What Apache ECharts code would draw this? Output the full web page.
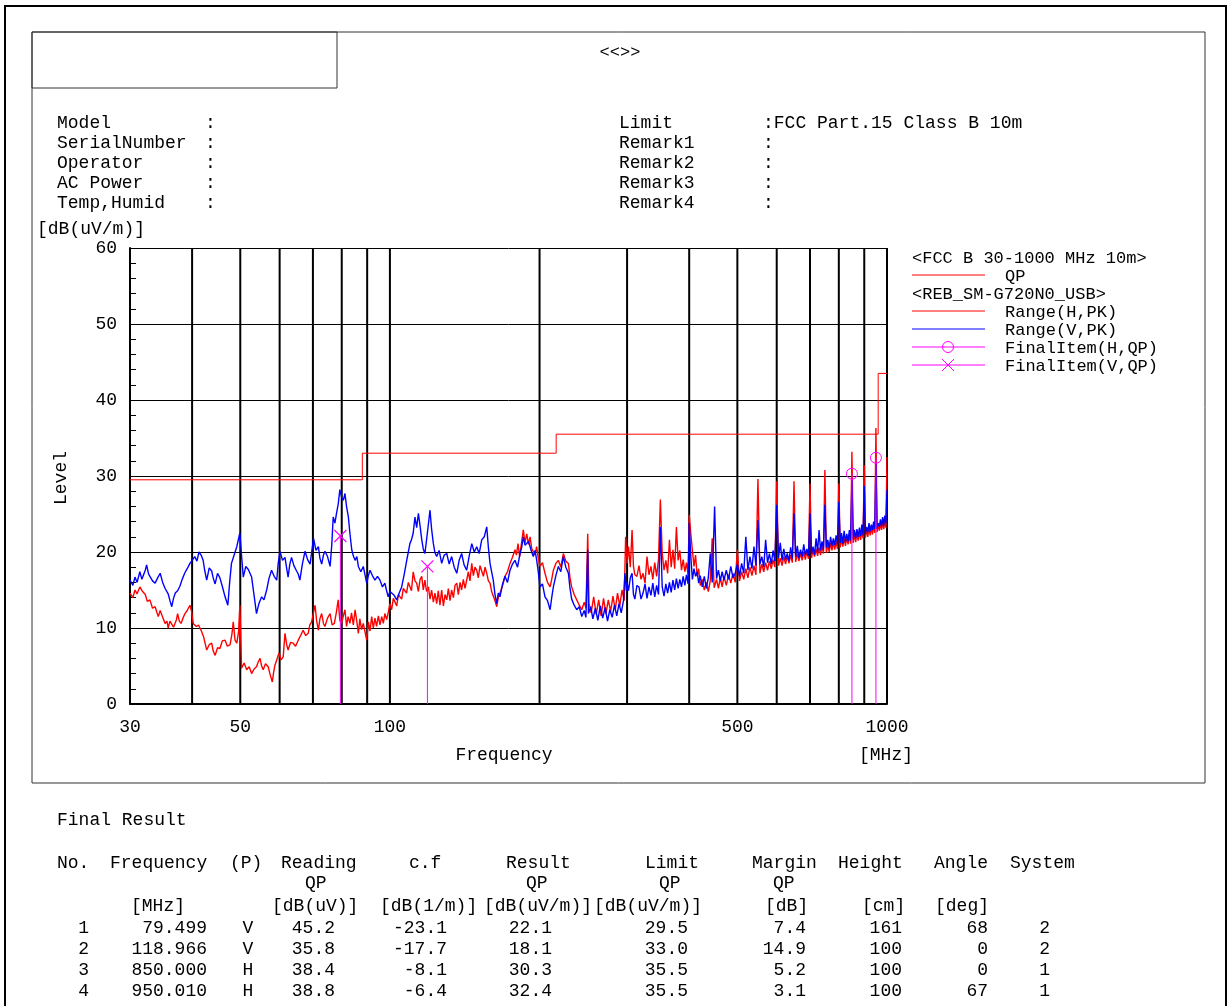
<!DOCTYPE html>
<html>
<head>
<meta charset="utf-8">
<title>Radiated Emission</title>
<script src="https://cdn.jsdelivr.net/npm/echarts@6/dist/echarts.min.js"></script>
<style>
  html, body { margin: 0; padding: 0; background: #fff; }
  #chart { width: 1228px; height: 1006px; }
</style>
</head>
<body>
<div id="chart"></div>
<script>
// limit line FCC Part15 class B 10m (QP)
const limitQP = [
  [30, 29.5], [88, 29.5], [88, 33.0], [216, 33.0],
  [216, 35.5], [960, 35.5], [960, 43.5], [1000, 43.5]
]

// vertical grid lines of the log axis
const gridFreqs = [40, 50, 60, 70, 80, 90, 100, 200, 300, 400, 500, 600, 700, 800, 900, 1000]
const xLabelValues = [30, 50, 100, 500, 1000]

// Range(H,PK) trace, [MHz, dB(uV/m)]
const rangeH = [
  [30.0,14.6],[30.4,14.0],[30.7,15.0],[31.0,14.5],[31.4,15.4],[31.8,14.8],[32.2,14.4],[32.5,13.5],[32.9,13.7],[33.3,12.6],
  [33.7,12.8],[34.0,12.0],[34.2,11.5],[34.5,12.3],[34.7,12.4],[35.0,11.2],[35.3,10.6],[35.6,10.9],[35.8,10.0],[36.1,10.9],
  [36.4,10.8],[36.7,10.1],[37.0,10.2],[37.2,11.1],[37.4,11.9],[37.7,10.9],[38.0,10.6],[38.4,11.4],[38.7,11.9],[39.1,12.3],
  [39.6,13.0],[39.9,12.2],[40.2,10.6],[40.5,10.8],[40.8,10.2],[41.2,10.4],[41.7,9.7],[42.2,8.8],[42.8,7.1],[43.3,7.8],
  [43.8,8.0],[44.1,7.0],[44.5,6.4],[45.0,7.4],[45.5,7.3],[46.0,8.3],[46.6,8.4],[47.1,7.6],[47.7,7.8],[48.1,9.2],
  [48.4,10.8],[48.8,8.4],[49.2,8.0],[49.6,9.5],[49.9,13.0],[50.1,9.0],[50.3,4.7],[50.9,5.4],[51.5,4.5],[52.1,4.9],
  [52.7,4.0],[53.3,4.6],[53.9,4.9],[54.3,5.5],[54.8,6.0],[55.2,5.0],[55.6,4.5],[56.2,5.3],[56.9,4.9],[57.4,3.9],
  [58.0,2.9],[58.3,4.0],[58.7,5.1],[59.2,5.8],[59.8,6.7],[60.4,5.8],[61.0,6.2],[61.5,9.3],[62.0,7.8],[62.4,7.1],
  [63.1,8.1],[63.9,8.0],[64.6,7.6],[65.4,8.4],[66.1,9.0],[66.9,9.7],[67.7,9.0],[68.5,9.3],[69.0,10.4],[69.6,10.8],
  [70.2,11.0],[70.7,13.0],[71.2,11.0],[71.8,9.7],[72.3,11.2],[72.9,11.9],[73.5,10.6],[74.0,10.2],[74.9,11.3],[75.8,11.9],
  [76.5,10.4],[77.3,10.6],[78.0,12.0],[78.7,13.7],[79.3,11.0],[79.9,10.6],[80.6,11.6],[81.2,12.4],[81.8,10.2],[82.4,11.5],
  [83.1,10.6],[83.7,12.0],[84.4,10.4],[85.1,12.4],[85.8,10.8],[86.4,9.3],[87.0,11.2],[87.7,9.8],[88.4,10.6],[89.1,9.5],
  [89.8,8.4],[90.5,10.8],[91.2,9.6],[91.9,11.5],[92.6,10.0],[93.3,11.3],[94.0,10.2],[94.8,11.6],[95.5,10.4],[96.3,11.5],
  [97.0,10.6],[97.7,11.9],[98.5,11.1],[99.2,12.0],[100.0,13.2],[100.8,12.4],[101.6,13.9],[102.4,13.7],[103.2,12.9],[104.0,14.4],
  [104.8,14.6],[105.6,13.8],[106.4,15.2],[107.2,15.4],[108.0,14.6],[108.9,16.0],[109.7,15.9],[110.5,14.9],[111.4,17.4],[112.3,16.2],
  [113.2,15.9],[114.1,14.8],[115.0,16.4],[115.9,16.8],[116.7,15.0],[117.6,16.3],[118.5,14.8],[119.5,15.4],[120.4,13.8],[121.3,15.0],
  [122.3,13.4],[123.2,14.6],[124.2,13.2],[125.1,14.9],[126.1,13.0],[127.1,15.0],[128.1,12.9],[129.1,14.4],[130.1,13.7],[131.1,15.2],
  [132.1,13.6],[133.1,15.0],[134.2,14.0],[135.2,15.6],[136.3,15.9],[137.3,14.4],[138.4,16.0],[139.4,15.0],[140.5,16.4],[141.6,15.2],
  [142.7,16.3],[143.8,17.4],[144.9,16.2],[146.1,18.5],[147.2,16.9],[148.3,18.0],[149.5,17.6],[150.6,16.6],[151.8,18.2],[153.0,18.1],
  [154.2,16.8],[155.4,18.0],[156.6,17.2],[157.8,16.2],[159.0,15.9],[160.2,14.8],[161.4,15.0],[162.7,13.6],[164.0,12.8],[165.2,14.0],
  [166.5,14.1],[168.4,15.5],[170.4,16.8],[172.4,17.4],[174.4,18.5],[176.4,19.3],[178.5,20.3],[179.7,19.6],[181.0,21.1],[182.4,19.4],
  [183.8,19.4],[185.5,22.9],[187.0,21.2],[188.5,22.4],[190.0,21.0],[191.4,22.0],[192.8,20.5],[194.3,20.7],[195.8,19.6],[197.3,20.7],
  [198.8,19.2],[200.4,18.1],[202.7,18.6],[205.1,17.2],[207.5,16.0],[210.0,15.4],[211.6,16.4],[213.2,17.6],[215.7,18.5],[218.2,18.9],
  [220.7,18.0],[223.3,19.8],[225.9,18.8],[228.6,18.5],[230.3,16.6],[232.1,15.4],[234.8,14.4],[237.6,13.7],[240.4,13.0],[243.2,12.4],
  [246.0,13.4],[248.0,12.6],[250.0,22.4],[251.5,13.2],[254.0,12.0],[257.0,14.1],[260.0,11.8],[263.0,13.7],[266.0,11.6],[269.0,13.9],
  [272.0,11.9],[275.0,13.7],[278.0,12.2],[281.0,14.2],[284.0,12.4],[287.0,14.6],[290.0,12.9],[293.0,15.0],[296.0,13.6],[298.0,22.0],
  [300.0,18.5],[302.0,20.7],[304.5,18.0],[307.0,22.9],[309.0,18.1],[311.0,17.0],[314.0,16.8],[317.0,18.2],[320.0,16.4],[323.0,17.2],
  [326.0,15.9],[329.0,19.4],[332.0,17.0],[335.0,18.1],[338.0,16.4],[341.0,18.6],[344.0,16.8],[347.0,19.0],[350.0,26.9],[353.0,19.8],
  [356.0,17.6],[359.0,18.9],[362.0,17.2],[365.0,21.6],[368.0,18.0],[371.0,20.3],[374.0,17.8],[377.0,23.3],[380.0,18.9],[383.0,20.2],
  [386.0,17.6],[389.0,19.0],[392.0,17.4],[395.0,18.6],[398.0,17.0],[400.0,24.9],[403.0,22.4],[406.0,20.2],[409.0,18.1],[412.0,19.6],
  [415.0,16.8],[418.0,17.8],[421.0,15.6],[425.0,16.4],[429.0,15.0],[433.0,16.0],[437.0,14.8],[441.0,16.2],[445.0,21.8],[449.0,15.3],
  [454.0,16.4],[458.0,15.2],[462.0,16.6],[466.0,15.4],[470.0,16.8],[475.0,15.6],[480.0,17.0],[485.0,15.9],[490.0,17.2],[495.0,16.0],
  [500.0,20.3],[505.0,16.2],[510.0,17.4],[515.0,16.4],[520.0,17.8],[525.0,16.6],[530.0,18.0],[535.0,16.9],[540.0,18.2],[545.0,17.0],
  [550.0,29.6],[555.0,17.2],[560.0,18.4],[565.0,17.4],[570.0,18.6],[575.0,17.6],[580.0,18.8],[585.0,17.8],[590.0,19.0],[595.0,18.0],
  [600.0,29.3],[605.0,18.2],[610.0,19.2],[615.0,18.2],[620.0,19.4],[625.0,18.4],[630.0,19.5],[635.0,18.5],[640.0,19.6],[645.0,18.6],
  [650.0,29.3],[655.0,18.7],[660.0,19.8],[665.0,18.8],[670.0,19.9],[675.0,18.9],[680.0,20.0],[685.0,19.0],[690.0,20.1],[695.0,19.1],
  [700.0,29.0],[705.0,19.2],[710.0,20.3],[715.0,19.4],[720.0,20.4],[725.0,19.5],[730.0,20.6],[735.0,19.6],[740.0,20.8],[745.0,19.8],
  [750.0,30.8],[755.0,19.9],[760.0,21.0],[765.0,20.0],[770.0,21.2],[775.0,20.2],[780.0,21.3],[785.0,20.3],[790.0,21.4],[795.0,20.4],
  [800.0,29.0],[805.0,20.6],[810.0,21.7],[815.0,20.7],[820.0,21.8],[825.0,20.8],[830.0,22.0],[835.0,21.0],[840.0,22.1],[845.0,21.1],
  [850.0,33.2],[855.0,21.2],[860.0,22.3],[865.0,21.3],[870.0,22.5],[875.0,21.5],[880.0,22.6],[885.0,21.6],[890.0,22.8],[895.0,21.8],
  [900.0,31.4],[905.0,21.9],[910.0,23.0],[915.0,22.0],[920.0,23.2],[925.0,22.2],[930.0,23.3],[935.0,22.3],[940.0,23.5],[945.0,22.5],
  [950.0,36.3],[955.0,22.6],[960.0,23.7],[965.0,22.8],[970.0,23.8],[975.0,22.9],[980.0,24.0],[985.0,23.0],[990.0,24.1],[995.0,23.2],
  [1000.0,32.5]
]

// Range(V,PK) trace, [MHz, dB(uV/m)]
const rangeV = [
  [30.0,16.3],[30.4,15.6],[30.7,16.7],[31.0,16.0],[31.4,17.4],[31.7,16.4],[31.9,16.5],[32.2,17.6],[32.4,18.3],[32.7,17.1],
  [32.9,17.0],[33.3,16.2],[33.7,15.9],[34.1,16.6],[34.5,17.2],[34.9,16.0],[35.3,15.2],[35.8,14.5],[36.1,13.6],[36.4,12.8],
  [36.7,13.9],[37.0,14.6],[37.4,14.9],[37.8,15.5],[38.2,16.4],[38.7,17.3],[39.1,17.8],[39.6,18.5],[40.0,18.9],[40.5,19.4],
  [40.9,18.8],[41.3,20.0],[41.7,19.6],[42.1,18.9],[42.4,17.6],[42.8,16.3],[43.3,17.9],[43.8,17.5],[44.1,16.6],[44.5,15.8],
  [45.0,17.2],[45.5,16.6],[46.0,15.5],[46.6,14.1],[47.2,13.0],[47.6,16.0],[48.0,18.5],[48.6,19.6],[49.2,20.7],[49.9,22.5],
  [50.3,19.5],[50.7,16.7],[51.3,18.1],[51.9,17.7],[52.3,17.9],[52.7,16.7],[53.3,14.3],[53.9,11.9],[54.5,13.2],[55.2,14.1],
  [55.8,13.7],[56.5,15.0],[57.1,16.5],[57.8,17.6],[58.5,16.8],[59.2,16.3],[59.6,18.5],[60.1,20.1],[60.8,18.9],[61.5,19.3],
  [62.0,17.8],[62.4,16.7],[62.9,18.4],[63.4,19.3],[64.1,18.2],[64.9,17.5],[65.4,17.1],[65.9,16.3],[66.7,18.5],[67.5,20.1],
  [68.3,19.0],[69.1,18.4],[69.6,20.0],[70.2,21.8],[71.0,20.2],[71.8,20.7],[72.3,19.2],[72.9,18.4],[73.5,19.6],[74.0,20.1],
  [74.9,19.4],[75.8,18.1],[76.4,21.0],[76.9,24.6],[77.5,23.8],[78.1,25.1],[78.7,26.3],[79.3,28.2],[79.9,27.3],[80.6,26.8],
  [81.2,27.7],[81.8,26.0],[82.5,24.6],[83.1,22.4],[83.8,20.3],[84.4,19.5],[85.1,18.9],[85.8,19.4],[86.4,18.1],[87.4,17.4],
  [88.4,18.1],[89.1,17.0],[89.8,15.9],[90.5,16.9],[91.2,17.6],[92.2,16.9],[93.3,16.3],[94.4,16.8],[95.5,16.3],[96.6,15.4],
  [97.7,15.9],[98.4,15.0],[99.2,14.1],[100.0,14.8],[100.8,15.0],[102.0,14.3],[103.2,13.7],[104.4,14.6],[105.6,15.4],[106.8,17.0],
  [108.1,18.9],[108.9,20.0],[109.7,21.1],[110.5,21.6],[111.4,22.5],[112.3,24.6],[113.2,23.2],[114.1,25.1],[115.0,23.4],[115.9,21.6],
  [116.7,20.4],[117.6,19.8],[119.0,22.6],[120.4,25.5],[121.3,23.0],[122.3,21.1],[123.2,19.9],[124.2,19.4],[125.6,20.2],[127.1,18.5],
  [128.6,19.6],[130.1,19.8],[131.6,18.4],[133.1,19.4],[134.7,18.0],[136.3,17.2],[137.8,18.9],[139.4,19.8],[141.0,18.3],[142.7,17.6],
  [144.4,19.5],[146.1,21.1],[147.8,20.0],[149.5,20.7],[151.2,19.8],[153.0,21.6],[154.8,22.0],[156.6,23.3],[157.8,20.6],[159.0,18.5],
  [160.2,17.4],[161.4,16.3],[162.7,14.4],[164.0,13.2],[165.2,14.6],[166.5,14.1],[168.4,15.7],[170.4,16.8],[172.4,16.0],[174.4,17.6],
  [176.4,18.4],[178.5,18.9],[180.6,18.0],[182.7,19.8],[184.1,20.6],[185.5,22.0],[187.0,20.9],[188.5,20.7],[190.0,21.4],[191.4,21.6],
  [192.8,20.0],[194.3,19.4],[195.8,20.2],[197.3,19.0],[198.8,17.4],[200.4,15.4],[202.7,15.8],[205.1,14.1],[207.5,13.6],[210.0,12.4],
  [211.6,14.0],[213.2,15.4],[215.7,16.9],[218.2,18.1],[220.7,17.4],[223.3,19.4],[225.9,18.0],[228.6,17.2],[230.3,15.2],[232.1,13.8],
  [234.8,13.0],[237.6,12.4],[240.4,12.8],[243.2,11.5],[246.0,12.3],[247.9,11.4],[250.0,20.3],[250.8,11.9],[253.5,12.8],[256.0,11.2],
  [259.0,12.6],[262.0,11.0],[265.0,12.9],[268.0,11.3],[271.0,12.7],[274.0,10.9],[277.0,12.4],[280.0,11.4],[283.0,13.0],[286.0,11.6],
  [289.0,13.2],[292.0,12.0],[295.0,13.6],[297.0,17.2],[299.0,14.9],[300.0,16.0],[302.0,14.9],[304.5,16.6],[307.0,17.2],[309.0,14.4],
  [311.0,13.8],[314.0,15.6],[317.0,15.4],[320.0,13.8],[323.0,14.6],[326.0,15.8],[329.0,13.9],[332.0,15.4],[335.0,14.3],[338.0,15.9],
  [341.0,14.1],[344.0,15.6],[347.0,14.4],[350.0,23.3],[353.0,15.4],[356.0,14.2],[359.0,15.8],[362.0,14.6],[365.0,16.0],[368.0,14.7],
  [371.0,16.3],[374.0,15.0],[377.0,16.5],[380.0,15.2],[383.0,16.4],[386.0,15.4],[389.0,16.8],[392.0,15.6],[395.0,17.0],[398.0,15.8],
  [400.0,23.8],[403.0,19.4],[406.0,16.4],[409.0,17.8],[412.0,16.8],[415.0,17.4],[418.0,15.9],[421.0,16.9],[425.0,15.4],[429.0,16.8],
  [433.0,15.2],[437.0,16.6],[441.0,19.8],[445.0,16.0],[450.0,26.0],[454.0,16.5],[458.0,17.6],[462.0,16.2],[466.0,17.4],[470.0,16.3],
  [475.0,17.6],[480.0,16.4],[485.0,18.1],[490.0,16.6],[495.0,17.2],[500.0,18.4],[505.0,16.8],[510.0,18.5],[515.0,17.2],[520.0,22.0],
  [525.0,17.6],[530.0,19.4],[535.0,17.8],[540.0,20.7],[545.0,18.2],[550.0,24.2],[555.0,18.4],[560.0,19.4],[565.0,18.0],[570.0,21.6],
  [575.0,18.6],[580.0,19.8],[585.0,18.4],[590.0,20.2],[595.0,18.8],[600.0,26.2],[605.0,19.2],[610.0,21.2],[615.0,18.9],[620.0,20.4],
  [625.0,19.0],[630.0,19.8],[635.0,18.8],[640.0,20.6],[645.0,19.1],[650.0,25.1],[655.0,19.4],[660.0,20.8],[665.0,19.2],[670.0,20.3],
  [675.0,19.4],[680.0,21.0],[685.0,19.6],[690.0,20.4],[695.0,19.5],[700.0,25.1],[705.0,19.8],[710.0,20.7],[715.0,19.6],[720.0,21.8],
  [725.0,20.0],[730.0,22.9],[735.0,20.2],[740.0,21.4],[745.0,20.3],[750.0,26.2],[755.0,20.6],[760.0,21.6],[765.0,20.5],[770.0,22.0],
  [775.0,20.8],[780.0,21.8],[785.0,20.9],[790.0,22.2],[795.0,21.0],[800.0,26.6],[805.0,21.2],[810.0,22.5],[815.0,21.1],[820.0,22.8],
  [825.0,21.3],[830.0,22.4],[835.0,21.4],[840.0,22.9],[845.0,21.5],[850.0,29.5],[855.0,21.7],[860.0,22.9],[865.0,21.8],[870.0,23.0],
  [875.0,22.0],[880.0,23.2],[885.0,22.1],[890.0,23.6],[895.0,22.2],[900.0,28.7],[905.0,22.4],[910.0,23.3],[915.0,22.6],[920.0,23.8],
  [925.0,22.7],[930.0,23.6],[935.0,22.9],[940.0,24.0],[945.0,23.0],[950.0,31.7],[955.0,23.1],[960.0,23.8],[965.0,23.3],[970.0,24.3],
  [975.0,23.4],[980.0,24.6],[985.0,23.5],[990.0,24.8],[995.0,23.8],[1000.0,28.2]
]

// Final Result table
const resultNo = [1, 2, 3, 4]
const resultFreq = [79.499, 118.966, 850.000, 950.010]
const resultPol = ['V', 'V', 'H', 'H']
const readingQP = [45.2, 35.8, 38.4, 38.8]
const corrFactor = [-23.1, -17.7, -8.1, -6.4]
const resultQP = [22.1, 18.1, 30.3, 32.4]
const limitAtFreq = [29.5, 33.0, 35.5, 35.5]
const marginQP = [7.4, 14.9, 5.2, 3.1]
const antHeight = [161, 100, 100, 100]
const turnAngle = [68, 0, 0, 67]
const systemNo = [2, 2, 1, 1]

const RED = '#ff0000'
const BLUE = '#0000ff'
const MAGENTA = '#ff00ff'
const MONO = '"Liberation Mono", "DejaVu Sans Mono", monospace'

const finalH = []
const finalV = []
resultFreq.forEach((f, i) => {
  if (resultPol[i] === 'H') finalH.push([f, resultQP[i]])
  else finalV.push([f, resultQP[i]])
})
const finalAll = resultFreq.map((f, i) => [f, resultQP[i]])

const txt = (x, y, s, opts = {}) => ({
  type: 'text',
  x: x,
  y: y,
  rotation: opts.rotation || 0,
  silent: true,
  style: {
    text: s,
    font: (opts.size || 18) + 'px ' + MONO,
    fill: '#000',
    align: opts.align || 'left',
    textAlign: opts.align || 'left',
    verticalAlign: 'middle',
    textVerticalAlign: 'middle'
  }
})

const hline = (x1, x2, y, color) => ({
  type: 'line',
  silent: true,
  shape: { x1: x1, y1: y, x2: x2, y2: y },
  style: { stroke: color, lineWidth: 1 }
})

const graphics = []

// frames
graphics.push({ type: 'rect', silent: true, shape: { x: 5, y: 6, width: 1221, height: 1012 }, style: { fill: 'none', stroke: '#000', lineWidth: 2 } })
graphics.push({ type: 'rect', silent: true, shape: { x: 32, y: 32, width: 1173, height: 751 }, style: { fill: 'none', stroke: '#333', lineWidth: 1 } })
graphics.push({ type: 'rect', silent: true, shape: { x: 32, y: 32, width: 305, height: 56 }, style: { fill: 'none', stroke: '#333', lineWidth: 1 } })
graphics.push(txt(620, 52, '<<>>', { align: 'center', size: 17 }))

// header block
const leftLabels = ['Model', 'SerialNumber', 'Operator', 'AC Power', 'Temp,Humid']
const rightLabels = ['Limit', 'Remark1', 'Remark2', 'Remark3', 'Remark4']
leftLabels.forEach((s, i) => {
  graphics.push(txt(57, 123 + i * 20, s))
  graphics.push(txt(205, 123 + i * 20, ':'))
})
rightLabels.forEach((s, i) => {
  graphics.push(txt(619, 123 + i * 20, s))
  graphics.push(txt(763, 123 + i * 20, i === 0 ? ':FCC Part.15 Class B 10m' : ':'))
})

// axis titles
graphics.push(txt(37, 229, '[dB(uV/m)]'))
graphics.push(txt(61, 478, 'Level', { align: 'center', rotation: Math.PI / 2 }))
graphics.push(txt(504, 755, 'Frequency', { align: 'center' }))
graphics.push(txt(859, 755, '[MHz]'))

// legend
const lgX1 = 912
const lgX2 = 985
const lgText = 1005
graphics.push(txt(lgX1, 258, '<FCC B 30-1000 MHz 10m>', { size: 17 }))
graphics.push(hline(lgX1, lgX2, 275, RED))
graphics.push(txt(lgText, 276, 'QP', { size: 17 }))
graphics.push(txt(lgX1, 294, '<REB_SM-G720N0_USB>', { size: 17 }))
graphics.push(hline(lgX1, lgX2, 311, RED))
graphics.push(txt(lgText, 312, 'Range(H,PK)', { size: 17 }))
graphics.push(hline(lgX1, lgX2, 329, BLUE))
graphics.push(txt(lgText, 330, 'Range(V,PK)', { size: 17 }))
graphics.push(hline(lgX1, lgX2, 347, MAGENTA))
graphics.push({ type: 'circle', silent: true, shape: { cx: 948, cy: 347, r: 5.5 }, style: { fill: 'none', stroke: MAGENTA, lineWidth: 1 } })
graphics.push(txt(lgText, 348, 'FinalItem(H,QP)', { size: 17 }))
graphics.push(hline(lgX1, lgX2, 365, MAGENTA))
graphics.push({ type: 'polyline', silent: true, shape: { points: [[942, 359], [954, 371]] }, style: { stroke: MAGENTA, lineWidth: 1 } })
graphics.push({ type: 'polyline', silent: true, shape: { points: [[954, 359], [942, 371]] }, style: { stroke: MAGENTA, lineWidth: 1 } })
graphics.push(txt(lgText, 366, 'FinalItem(V,QP)', { size: 17 }))

// final result table
graphics.push(txt(57, 820, 'Final Result'))
const heads = [
  ['No.', 57], ['Frequency', 110], ['(P)', 230], ['Reading', 281], ['c.f', 409], ['Result', 506],
  ['Limit', 645], ['Margin', 752], ['Height', 838], ['Angle', 934], ['System', 1010]
]
heads.forEach(h => graphics.push(txt(h[1], 863, h[0])))
;[305, 526, 659, 773].forEach(x => graphics.push(txt(x, 883, 'QP')))
const units = [
  ['[MHz]', 131], ['[dB(uV)]', 272], ['[dB(1/m)]', 380], ['[dB(uV/m)]', 484],
  ['[dB(uV/m)]', 594], ['[dB]', 765], ['[cm]', 862], ['[deg]', 935]
]
units.forEach(u => graphics.push(txt(u[1], 906, u[0])))
resultNo.forEach((n, i) => {
  const y = 928 + i * 21
  const r = { align: 'right' }
  graphics.push(txt(89, y, String(n), r))
  graphics.push(txt(207, y, resultFreq[i].toFixed(3), r))
  graphics.push(txt(248, y, resultPol[i], { align: 'center' }))
  graphics.push(txt(335, y, readingQP[i].toFixed(1), r))
  graphics.push(txt(447, y, corrFactor[i].toFixed(1), r))
  graphics.push(txt(552, y, resultQP[i].toFixed(1), r))
  graphics.push(txt(688, y, limitAtFreq[i].toFixed(1), r))
  graphics.push(txt(806, y, marginQP[i].toFixed(1), r))
  graphics.push(txt(902, y, String(antHeight[i]), r))
  graphics.push(txt(988, y, String(turnAngle[i]), r))
  graphics.push(txt(1050, y, String(systemNo[i]), r))
})

const chart = echarts.init(document.getElementById('chart'))

chart.setOption({
  animation: false,
  backgroundColor: '#fff',
  grid: { left: 130, top: 248, width: 757, height: 456 },
  xAxis: {
    type: 'log',
    logBase: 10,
    min: 30,
    max: 1000,
    axisLine: { show: true, onZero: false, lineStyle: { color: '#000', width: 2 } },
    axisTick: { show: false },
    splitLine: { show: false },
    axisLabel: {
      customValues: xLabelValues,
      color: '#000',
      fontFamily: MONO,
      fontSize: 18,
      margin: 14,
      formatter: v => String(Math.round(v))
    }
  },
  yAxis: {
    type: 'value',
    min: 0,
    max: 60,
    interval: 10,
    axisLine: { show: true, lineStyle: { color: '#000', width: 2 } },
    axisTick: { show: true, inside: true, length: 6, lineStyle: { color: '#000' } },
    minorTick: { show: true, splitNumber: 5, length: 6, lineStyle: { color: '#000' } },
    splitLine: { show: true, lineStyle: { color: '#000', width: 1 } },
    axisLabel: { color: '#000', fontFamily: MONO, fontSize: 18, margin: 13 }
  },
  graphic: { elements: graphics },
  series: [
    {
      name: 'grid',
      type: 'custom',
      silent: true,
      z: 1,
      data: gridFreqs.map(f => [f, 0]),
      renderItem: (params, api) => {
        const p0 = api.coord([api.value(0), 0])
        const p1 = api.coord([api.value(0), 60])
        return {
          type: 'line',
          shape: { x1: p0[0], y1: p0[1], x2: p1[0], y2: p1[1] },
          style: { stroke: '#000', lineWidth: 2 }
        }
      }
    },
    {
      name: 'Range(H,PK)',
      type: 'line',
      z: 2,
      data: rangeH,
      showSymbol: false,
      silent: true,
      lineStyle: { color: RED, width: 1.4 }
    },
    {
      name: 'Range(V,PK)',
      type: 'line',
      z: 3,
      data: rangeV,
      showSymbol: false,
      silent: true,
      lineStyle: { color: BLUE, width: 1.4 }
    },
    {
      name: 'QP',
      type: 'line',
      z: 4,
      data: limitQP,
      showSymbol: false,
      silent: true,
      lineStyle: { color: RED, width: 1 }
    },
    {
      name: 'drop',
      type: 'custom',
      silent: true,
      z: 5,
      data: finalAll,
      renderItem: (params, api) => {
        const p0 = api.coord([api.value(0), 0])
        const p1 = api.coord([api.value(0), api.value(1)])
        return {
          type: 'line',
          shape: { x1: p0[0], y1: p0[1], x2: p1[0], y2: p1[1] },
          style: { stroke: MAGENTA, lineWidth: 1 }
        }
      }
    },
    {
      name: 'FinalItem(H,QP)',
      type: 'scatter',
      z: 6,
      data: finalH,
      symbol: 'circle',
      symbolSize: 11,
      silent: true,
      itemStyle: { color: 'rgba(0,0,0,0)', borderColor: MAGENTA, borderWidth: 1, opacity: 1 }
    },
    {
      name: 'FinalItem(V,QP)',
      type: 'scatter',
      z: 6,
      data: finalV,
      symbol: 'path://M0,0L10,10M10,0L0,10',
      symbolSize: 12,
      silent: true,
      itemStyle: { color: 'rgba(0,0,0,0)', borderColor: MAGENTA, borderWidth: 1.2, opacity: 1 }
    }
  ]
})
</script>
</body>
</html>
